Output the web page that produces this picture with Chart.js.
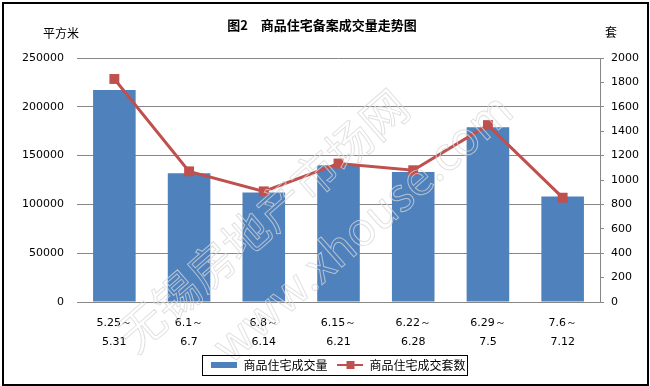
<!DOCTYPE html>
<html>
<head>
<meta charset="utf-8">
<script src="https://cdn.jsdelivr.net/npm/chart.js@4/dist/chart.umd.min.js"></script>
<style>
  body { margin: 0; background: #fff; }
  #wrap { width: 650px; height: 386px; }
</style>
</head>
<body>
<div id="wrap"><canvas id="chart" width="650" height="386"></canvas></div>
<script>
// data
const weeks = [
  ["5.25～", "5.31"],
  ["6.1～", "6.7"],
  ["6.8～", "6.14"],
  ["6.15～", "6.21"],
  ["6.22～", "6.28"],
  ["6.29～", "7.5"],
  ["7.6～", "7.12"]
];
const areaSold = [217200, 131900, 112300, 140100, 133200, 179100, 108200]; // 平方米
const unitsSold = [1828, 1071, 907, 1135, 1080, 1450, 855]; // 套

const chartTitle = "图2　商品住宅备案成交量走势图";
const leftUnit = "平方米";
const rightUnit = "套";

const BLUE = "#4F81BD";
const RED = "#C0504D";
const GRID = "#878787";
const numFont = { family: "DejaVu Sans", size: 11 };
const cjk = "'Noto Sans CJK SC', 'DejaVu Sans'";

// legend markers
function makeMarker(kind) {
  const c = document.createElement("canvas");
  c.width = 26;
  c.height = 10;
  const g = c.getContext("2d");
  if (kind === "bar") {
    g.fillStyle = BLUE;
    g.fillRect(0, 2, 26, 6);
  } else {
    g.fillStyle = RED;
    g.fillRect(0, 4, 26, 2);
    g.fillRect(9, 1, 8, 8);
  }
  return c;
}
const barMarker = makeMarker("bar");
const lineMarker = makeMarker("line");

// title, units, watermark, legend frame, outer frame
const decorations = {
  id: "decorations",
  afterDatasetsDraw(chart) {
    const ctx = chart.ctx;
    const area = chart.chartArea;
    ctx.save();
    ctx.translate(area.left + 215, area.top + 150);
    ctx.rotate(-0.72);
    ctx.font = "46px " + cjk;
    ctx.strokeStyle = "rgba(215,215,215,0.75)";
    ctx.lineWidth = 1;
    ctx.textAlign = "center";
    ctx.textBaseline = "middle";
    ctx.strokeText("无锡房地产市场网", -30, -10);
    ctx.strokeText("www.xhouse.com", 40, 60);
    ctx.restore();
  },
  afterDraw(chart) {
    const ctx = chart.ctx;
    const area = chart.chartArea;
    ctx.save();
    ctx.fillStyle = "#000";
    ctx.textBaseline = "middle";
    ctx.textAlign = "center";
    ctx.font = "bold 13px " + cjk;
    ctx.fillText(chartTitle, chart.width / 2 - 3, 25);
    ctx.font = "12px " + cjk;
    ctx.fillText(leftUnit, area.left - 16, 33);
    ctx.fillText(rightUnit, area.right + 11, 32);

    // legend frame
    const boxes = chart.legend.legendHitBoxes;
    if (boxes.length) {
      const l = Math.min(...boxes.map(b => b.left)) - 9;
      const r = Math.max(...boxes.map(b => b.left + b.width)) + 2;
      const t = Math.min(...boxes.map(b => b.top)) - 4;
      const bt = Math.max(...boxes.map(b => b.top + b.height)) + 4;
      ctx.strokeStyle = "#000";
      ctx.lineWidth = 1;
      ctx.strokeRect(Math.round(l) + 0.5, Math.round(t) + 0.5, Math.round(r - l), Math.round(bt - t));
    }

    ctx.strokeStyle = "#000";
    ctx.lineWidth = 2;
    ctx.strokeRect(3, 3, chart.width - 5, chart.height - 4);
    ctx.restore();
  }
};

const plainNumber = value => String(value);

new Chart(document.getElementById("chart"), {
  data: {
    labels: weeks,
    datasets: [
      {
        type: "line",
        label: "商品住宅成交套数",
        data: unitsSold,
        yAxisID: "yRight",
        borderColor: RED,
        backgroundColor: RED,
        borderWidth: 3,
        pointStyle: "rect",
        pointRadius: 7,
        pointBorderWidth: 0,
        tension: 0,
        order: 0
      },
      {
        type: "bar",
        label: "商品住宅成交量",
        data: areaSold,
        yAxisID: "yLeft",
        backgroundColor: BLUE,
        barPercentage: 0.57,
        categoryPercentage: 1,
        order: 1
      }
    ]
  },
  options: {
    responsive: false,
    animation: false,
    events: [],
    layout: { padding: { top: 58, left: 0, right: 0, bottom: 5 } },
    scales: {
      x: {
        grid: { display: false, drawTicks: false },
        border: { display: true, color: GRID, width: 1 },
        ticks: {
          color: "#000",
          font: { family: "DejaVu Sans", size: 11, lineHeight: 1.73 },
          padding: 12,
          maxRotation: 0,
          autoSkip: false
        },
        afterFit(scale) { scale.height = 47; }
      },
      yLeft: {
        position: "left",
        min: 0,
        max: 250000,
        ticks: { stepSize: 50000, color: "#000", font: numFont, padding: 13, callback: plainNumber },
        grid: { color: GRID, lineWidth: 1, drawTicks: false },
        border: { display: false },
        afterFit(scale) { scale.width = 77; }
      },
      yRight: {
        position: "right",
        min: 0,
        max: 2000,
        ticks: { stepSize: 200, color: "#000", font: numFont, padding: 7, callback: plainNumber },
        grid: { drawOnChartArea: false, color: GRID, tickLength: 4 },
        border: { display: true, color: GRID, width: 1 },
        afterFit(scale) { scale.width = 50; }
      }
    },
    plugins: {
      title: { display: false },
      tooltip: { enabled: false },
      legend: {
        position: "bottom",
        fullSize: false,
        labels: {
          color: "#000",
          font: { family: "Noto Sans CJK SC", size: 12 },
          usePointStyle: true,
          pointStyleWidth: 26,
          padding: 10,
          generateLabels(chart) {
            const items = Chart.defaults.plugins.legend.labels.generateLabels(chart);
            items.forEach(it => {
              it.pointStyle = it.datasetIndex === 1 ? barMarker : lineMarker;
            });
            // bar series first, like the reference
            return items.sort((a, b) => b.datasetIndex - a.datasetIndex);
          }
        }
      }
    }
  },
  plugins: [decorations]
});
</script>
</body>
</html>
